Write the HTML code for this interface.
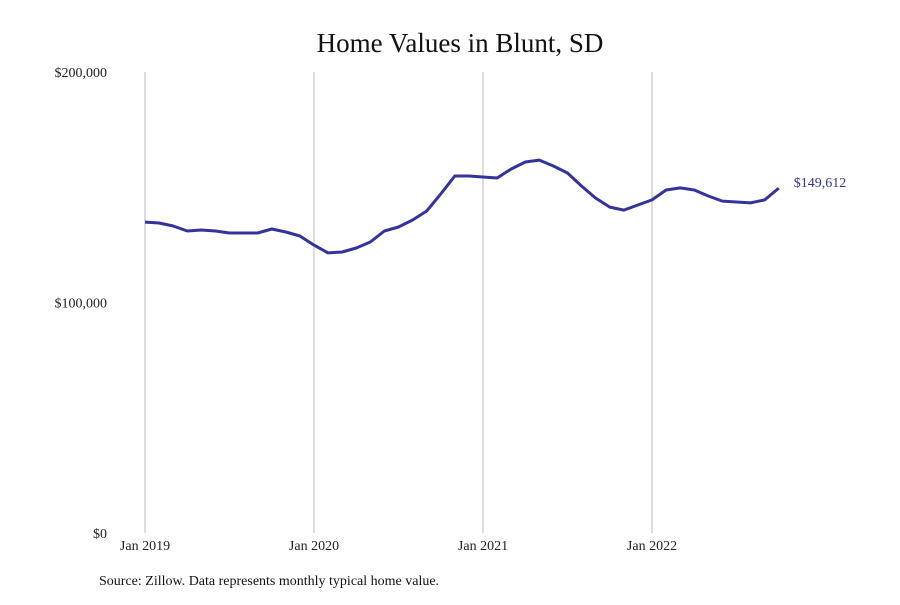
<!DOCTYPE html>
<html><head><meta charset="utf-8"><style>
body{margin:0;background:#fff;}
svg text{font-family:"Liberation Serif",serif;}
</style></head><body>
<svg width="900" height="600" viewBox="0 0 900 600">
<text x="460" y="52" text-anchor="middle" font-size="27" fill="#111">Home Values in Blunt, SD</text>
<g id="grid"></g><g id="yaxis"></g><g id="xaxis"></g>
<path id="line" fill="none" stroke="#33339a" stroke-width="3" stroke-linejoin="round"/>
<text id="endlabel" font-size="14" fill="#33339a"></text>
<text x="99" y="585" font-size="14" fill="#111">Source: Zillow. Data represents monthly typical home value.</text>
</svg>
<script>
const values=[134900,134500,133200,131000,131450,131000,130150,130150,130150,131900,130600,128850,124900,121500,121900,123650,126250,131000,132750,135800,139700,147100,154900,154900,154450,154000,157900,160950,161800,159200,156200,150500,145300,141400,140100,142300,144500,148800,149700,148800,146200,144000,143600,143200,144500,149612];
const yTicks=[0,100000,200000];
const yTickLabels=["$0","$100,000","$200,000"];
const xTickMonths=[0,12,24,36];
const xTickLabels=["Jan 2019","Jan 2020","Jan 2021","Jan 2022"];
const lastLabel="$149,612";
const NS="http://www.w3.org/2000/svg";
const x=m=>145+m*169/12;
const y=v=>533-v/200000*461;
const grid=document.getElementById('grid'),xa=document.getElementById('xaxis'),ya=document.getElementById('yaxis');
xTickMonths.forEach((m,i)=>{
 const l=document.createElementNS(NS,'line');
 l.setAttribute('x1',x(m));l.setAttribute('x2',x(m));l.setAttribute('y1',72);l.setAttribute('y2',533);
 l.setAttribute('stroke','#bbb');l.setAttribute('stroke-width','1');
 
 
 grid.appendChild(l);
 const t=document.createElementNS(NS,'text');
 t.setAttribute('x',x(m));t.setAttribute('y',550);t.setAttribute('text-anchor','middle');t.setAttribute('font-size','14');t.setAttribute('fill','#222');
 t.textContent=xTickLabels[i];
 
 
 xa.appendChild(t);
});
yTicks.forEach((v,i)=>{
 const t=document.createElementNS(NS,'text');
 t.setAttribute('x',107);t.setAttribute('y',y(v)+5);t.setAttribute('text-anchor','end');t.setAttribute('font-size','14');t.setAttribute('fill','#222');
 t.textContent=yTickLabels[i];
 
 
 ya.appendChild(t);
});
document.getElementById('line').setAttribute('d',values.map((v,i)=>(i?'L':'M')+x(i).toFixed(1)+','+y(v).toFixed(1)).join(''));
const n=values.length-1,el=document.getElementById('endlabel');
el.setAttribute('x',x(n)+15);el.setAttribute('y',y(values[n])-1);el.textContent=lastLabel;
</script>
</body></html>
